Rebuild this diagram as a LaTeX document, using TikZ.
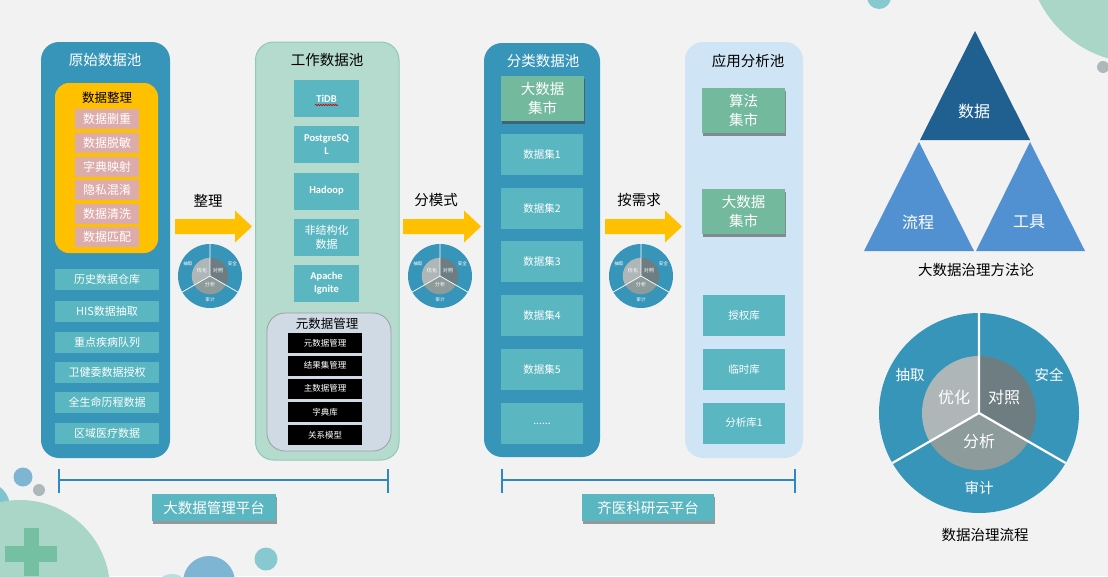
\documentclass[tikz,border=0pt]{standalone}
\usepackage{fontspec}
\setmainfont{Noto Sans CJK SC}
\newfontfamily\lat{Carlito}
\usetikzlibrary{shadows,calc,decorations.pathmorphing}
\definecolor{bgc}{HTML}{F2F2F2}
\definecolor{cblue}{HTML}{3895BA}
\definecolor{cteal}{HTML}{5AB6C0}
\definecolor{cgreen}{HTML}{72B99E}
\definecolor{cpink}{HTML}{DCACAB}
\definecolor{cyel}{HTML}{FFC000}
\definecolor{cmint}{HTML}{B4DBCD}
\definecolor{cmintb}{HTML}{8DCBB2}
\definecolor{clblue}{HTML}{CFE5F5}
\definecolor{cgrayblue}{HTML}{CFDAE5}
\definecolor{tdark}{HTML}{1F6091}
\definecolor{tmid}{HTML}{5291D1}
\definecolor{pieA}{HTML}{AEB6B8}
\definecolor{pieB}{HTML}{6D7D81}
\definecolor{pieC}{HTML}{8E9B9B}
\definecolor{bra}{HTML}{2F87C3}
\definecolor{decmint}{HTML}{A9D6C7}
\definecolor{decplus}{HTML}{75C0A2}
\definecolor{decblue}{HTML}{7DB5D3}
\definecolor{decteal}{HTML}{88C9D1}
\definecolor{decgray}{HTML}{AEB8BA}
\tikzset{
  x=1pt, y=-1pt,
  fs/.style 2 args={font=\fontsize{#1}{#2}\selectfont},
  colbox/.style={rounded corners=18pt, inner sep=0pt},
  tealbox/.style={fill=cteal, text=white, inner sep=0pt, align=center},
  pinkbox/.style={fill=cpink, text=white, inner sep=0pt, minimum width=64, minimum height=20, fs={12}{14}},
  lowbox/.style={tealbox, minimum width=104, minimum height=21, fs={11}{13}},
  dbbox/.style={tealbox, minimum width=65, minimum height=37},
  latb/.style={font={\fontsize{10.5}{13}\selectfont\lat\bfseries}},
  blkbox/.style={fill=black, text=white, inner sep=0pt, minimum width=74, minimum height=20, fs={8.5}{10}},
  setbox/.style={tealbox, minimum width=82, minimum height=41, fs={10.5}{12}},
  greenbox/.style={fill=cgreen, text=white, inner sep=0pt, align=center, minimum width=83, minimum height=45, fs={14.5}{19},
     drop shadow={shadow xshift=1pt, shadow yshift=-3pt, opacity=0.55, fill=black!75}},
  platbox/.style={fill=cteal, text=white, inner sep=0pt, minimum height=27, fs={14.5}{17},
     drop shadow={shadow xshift=1pt, shadow yshift=-2.5pt, opacity=0.5, fill=black!75}},
  lbl/.style={inner sep=0pt},
}
\newcommand\yarrow[3]{%
  \fill[cyel] (#1,#3-7.5) -- (#2-17,#3-7.5) -- (#2-17,#3-16) -- (#2,#3) -- (#2-17,#3+16) -- (#2-17,#3+7.5) -- (#1,#3+7.5) -- cycle;}
\newcommand\mypie[4]{%
  \begin{scope}[shift={(#2,#3)}, scale=#4, transform shape]
    \fill[cblue] (0,0) circle[radius=100];
    \fill[pieA] (0,0) -- (150:57) arc[start angle=150, end angle=270, radius=57] -- cycle;
    \fill[pieB] (0,0) -- (-90:57) arc[start angle=-90, end angle=30, radius=57] -- cycle;
    \fill[pieC] (0,0) -- (30:57) arc[start angle=30, end angle=150, radius=57] -- cycle;
    \draw[white, line width=#4*2.2pt] (0,0) -- (-90:100) (0,0) -- (30:100) (0,0) -- (150:100);
    \node[lbl, text=white, fs={14.5}{17}] (#1-o1) at (-69,-38) {抽取};
    \node[lbl, text=white, fs={14.5}{17}] (#1-o2) at (70,-38) {安全};
    \node[lbl, text=white, fs={14.5}{17}] (#1-o3) at (0,75) {审计};
    \node[lbl, text=white, fs={16}{18}] (#1-i1) at (-25,-16) {优化};
    \node[lbl, text=white, fs={16}{18}] (#1-i2) at (25,-16) {对照};
    \node[lbl, text=white, fs={16}{18}] (#1-i3) at (0,28) {分析};
  \end{scope}}
\begin{document}
\begin{tikzpicture}
\useasboundingbox (0,0) rectangle (1108,576);
\fill[bgc] (0,0) rectangle (1108,576);
% decorations
\begin{scope}
  \clip (0,0) rectangle (1108,576);
  \fill[decmint] (1140,-50) circle[radius=113];
  \fill[decgray] (1103,67) circle[radius=6];
  \fill[decteal] (879,-3) circle[radius=12];
  \fill[decteal!90!cblue] (-15,507) circle[radius=25];
  \fill[decmint] (20,590) circle[radius=90];
  \fill[decplus] (24,528) rectangle (39,576);
  \fill[decplus] (5,546) rectangle (57,562);
  \fill[decblue] (23,477) circle[radius=9.5];
  \fill[decgray] (39,490) circle[radius=6];
  \fill[decteal] (266,559) circle[radius=11.5];
  \fill[decteal!60!white] (172,592) circle[radius=18];
  \fill[decblue] (209,582) circle[radius=26];
\end{scope}

% column 1
\node[colbox, fill=cblue, minimum width=129, minimum height=416] (c1) at (105.5,250) {};
\node[lbl, text=white, fs={14.5}{17}] (t1) at (105,60) {原始数据池};
\node[rounded corners=14pt, fill=cyel, inner sep=0pt, minimum width=103, minimum height=170] (y1) at (106.5,168) {};
\node[lbl, fs={12.5}{15}] (t1b) at (107,98) {数据整理};
\node[pinkbox] (p1) at (107,119) {数据删重};
\node[pinkbox] (p2) at (107,143) {数据脱敏};
\node[pinkbox] (p3) at (107,166.5) {字典映射};
\node[pinkbox] (p4) at (107,189.5) {隐私混淆};
\node[pinkbox] (p5) at (107,213.5) {数据清洗};
\node[pinkbox] (p6) at (107,237) {数据匹配};
\node[lowbox] (l1) at (107,279.5) {历史数据仓库};
\node[lowbox] (l2) at (107,311.5) {HIS数据抽取};
\node[lowbox] (l3) at (107,342) {重点疾病队列};
\node[lowbox] (l4) at (107,372) {卫健委数据授权};
\node[lowbox] (l5) at (107,402.5) {全生命历程数据};
\node[lowbox] (l6) at (107,433) {区域医疗数据};

% column 2
\node[colbox, fill=cmint, draw=cmintb, line width=1pt, minimum width=143.5, minimum height=418] (c2) at (327.25,251) {};
\node[lbl, fs={14.5}{17}] (t2) at (327,60) {工作数据池};
\node[dbbox, latb] (w1) at (326.5,98.5) {TiDB};
\draw[red!80!black, line width=0.6pt, decorate, decoration={snake, amplitude=0.7pt, segment length=2.5pt}] ($(w1.center)+(-11.5,6.5)$) -- ++(23,0);
\node[dbbox, latb] (w2) at (326.5,144.5) {PostgreSQ\\L};
\node[dbbox, latb] (w3) at (326.5,191) {Hadoop};
\node[dbbox, fs={11}{13.5}] (w4) at (326.5,237.5) {非结构化\\数据};
\node[dbbox, latb] (w5) at (326.5,283.5) {Apache\\Ignite};
\node[rounded corners=18pt, fill=cgrayblue, draw=gray!75, line width=0.8pt, inner sep=0pt, minimum width=124, minimum height=138] (m0) at (329,382) {};
\node[lbl, fs={12.5}{15}] (mt) at (327,324) {元数据管理};
\node[blkbox] (m1) at (325,343) {元数据管理};
\node[blkbox] (m2) at (325,365.5) {结果集管理};
\node[blkbox] (m3) at (325,388.5) {主数据管理};
\node[blkbox] (m4) at (325,412) {字典库};
\node[blkbox] (m5) at (325,435) {关系模型};

% column 3
\node[colbox, fill=cblue, minimum width=116, minimum height=414] (c3) at (542,250) {};
\node[lbl, text=white, fs={14.5}{17}] (t3) at (543,61) {分类数据池};
\node[greenbox] (g1) at (542.5,98.5) {大数据\\集市};
\node[setbox] (s1) at (542,154.5) {数据集1};
\node[setbox] (s2) at (542,208.5) {数据集2};
\node[setbox] (s3) at (542,261.5) {数据集3};
\node[setbox] (s4) at (542,315.5) {数据集4};
\node[setbox] (s5) at (542,369.5) {数据集5};
\node[setbox] (s6) at (542,423.5) {......};

% column 4
\node[colbox, fill=clblue, minimum width=118, minimum height=416] (c4) at (744,250) {};
\node[lbl, fs={14.5}{17}] (t4) at (748,61) {应用分析池};
\node[greenbox] (g2) at (743.5,110.5) {算法\\集市};
\node[greenbox] (g3) at (743.5,211) {大数据\\集市};
\node[setbox] (a1) at (744,315.5) {授权库};
\node[setbox] (a2) at (744,369.5) {临时库};
\node[setbox] (a3) at (744,423) {分析库1};

% arrows and labels
\yarrow{175}{252}{226.5}
\yarrow{403}{481}{226.5}
\yarrow{605}{682}{226.5}
\node[lbl, fs={14.5}{17}] (ar1) at (208,201) {整理};
\node[lbl, fs={14.5}{17}] (ar2) at (436,200) {分模式};
\node[lbl, fs={14.5}{17}] (ar3) at (639,200) {按需求};

% small pies
\mypie{pa}{210}{276}{0.32}
\mypie{pb}{440}{276}{0.32}
\mypie{pc}{641}{276}{0.32}

% brackets
\draw[bra, line width=2pt] (59,469) -- (59,493) (59,480) -- (388,480) (388,469) -- (388,493);
\draw[bra, line width=2pt] (502,469) -- (502,493) (502,480) -- (795,480) (795,469) -- (795,493);
\node[platbox, minimum width=124] (pl1) at (214,507.5) {大数据管理平台};
\node[platbox, minimum width=132] (pl2) at (648,507.5) {齐医科研云平台};

% triangles
\fill[tdark] (975,31) -- (1030,140) -- (920,140) -- cycle;
\fill[tmid] (919,142) -- (974,251) -- (864,251) -- cycle;
\fill[tmid] (1030,142) -- (1085,251) -- (976,251) -- cycle;
\node[lbl, text=white, fs={16}{18}] (tr1) at (974,111) {数据};
\node[lbl, text=white, fs={16}{18}] (tr2) at (918,222) {流程};
\node[lbl, text=white, fs={16}{18}] (tr3) at (1029,222) {工具};
\node[lbl, fs={14.5}{17}] (trc) at (976,270) {大数据治理方法论};

% big pie
\mypie{pbig}{979}{413}{1}
\node[lbl, fs={14.5}{17}] (pic) at (985,535) {数据治理流程};
\end{tikzpicture}
\end{document}
